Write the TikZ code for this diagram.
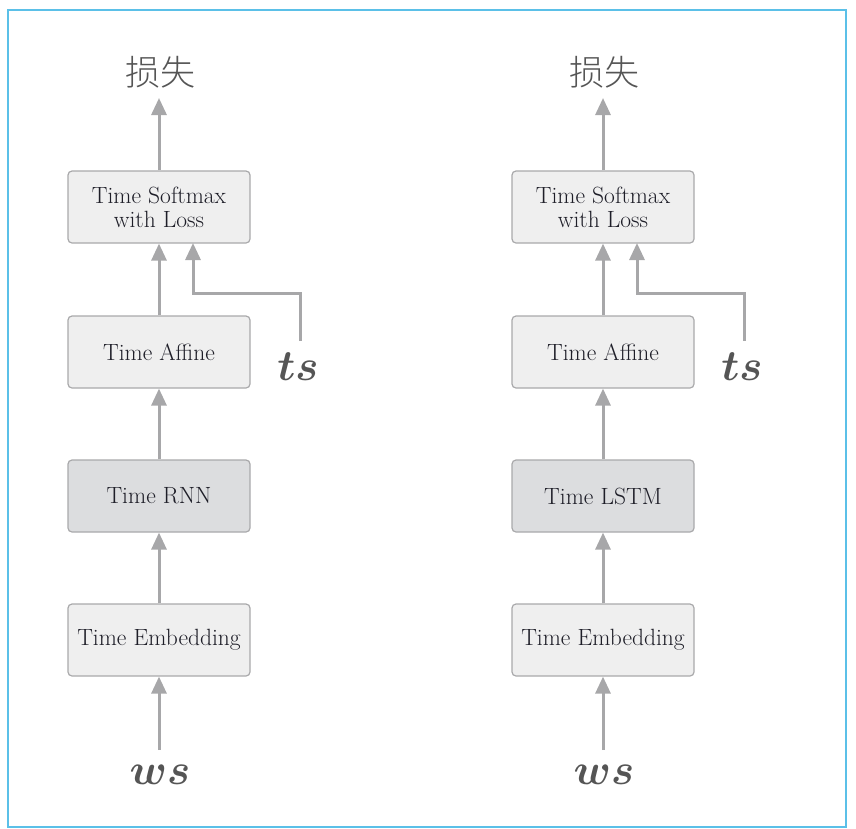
\documentclass[tikz,border=0pt]{standalone}
\usepackage{fontspec}
\usepackage{amsmath,bm}
\newfontfamily\cjk{Noto Sans CJK SC Light}
\usetikzlibrary{arrows.meta}
\definecolor{arrowgray}{HTML}{A7A7A9}
\definecolor{boxfill}{HTML}{EFEFEF}
\definecolor{darkfill}{HTML}{DCDDDF}
\definecolor{boxline}{HTML}{A9A9AB}
\definecolor{frameblue}{HTML}{5BC0E8}
\definecolor{labelgray}{HTML}{555555}
\definecolor{boxtext}{HTML}{1E1E28}
\begin{document}
\begin{tikzpicture}[x=1pt,y=-1pt,
  layerbox/.style={draw=boxline,line width=1.2pt,fill=boxfill,rounded corners=4pt,
    minimum width=182pt,minimum height=72pt,inner sep=0pt,align=center,
    font=\fontsize{23.5}{25}\selectfont,text=boxtext},
  darkbox/.style={layerbox,fill=darkfill},
  flow/.style={draw=arrowgray,line width=3pt,-{Triangle[length=17pt,width=15pt]}},
  mathlabel/.style={text=labelgray,font=\fontsize{24.88}{28}\selectfont,inner sep=0pt,scale=1.75},
  losslabel/.style={text=labelgray,font=\cjk\fontsize{35}{38}\selectfont,inner sep=0pt}]
\useasboundingbox (0,0) rectangle (856,828);
\draw[frameblue,line width=1.5pt] (8,10) rectangle (846,827);
% left column
\node[layerbox] (ls) at (159,207) {Time Softmax\\[-1pt]with Loss};
\node[layerbox] (la) at (159,352) {Time Affine};
\node[darkbox] (lr) at (159,496) {Time RNN};
\node[layerbox] (le) at (159,640) {Time Embedding};
\node[losslabel] (lloss) at (160,72) {损失};
\node[mathlabel] (lts) at (298,367) {$\bm{ts}$};
\node[mathlabel] (lws) at (160,775) {$\bm{ws}$};
\coordinate (ltop) at (159,98);
\coordinate (lbot) at (159,750);
\coordinate (ltsin) at (193,243);
\draw[flow] (ls.north) -- (ltop);
\draw[flow] (la.north) -- (ls.south);
\draw[flow] (lr.north) -- (la.south);
\draw[flow] (le.north) -- (lr.south);
\draw[flow] (lbot) -- (le.south);
\draw[flow] (300,341) -- (300,293) -- (193,293) -- (ltsin);
% right column
\node[layerbox] (rs) at (603,207) {Time Softmax\\[-1pt]with Loss};
\node[layerbox] (ra) at (603,352) {Time Affine};
\node[darkbox] (rr) at (603,496) {Time LSTM};
\node[layerbox] (re) at (603,640) {Time Embedding};
\node[losslabel] (rloss) at (604,72) {损失};
\node[mathlabel] (rts) at (742,367) {$\bm{ts}$};
\node[mathlabel] (rws) at (604,775) {$\bm{ws}$};
\coordinate (rtop) at (603,98);
\coordinate (rbot) at (603,750);
\coordinate (rtsin) at (637,243);
\draw[flow] (rs.north) -- (rtop);
\draw[flow] (ra.north) -- (rs.south);
\draw[flow] (rr.north) -- (ra.south);
\draw[flow] (re.north) -- (rr.south);
\draw[flow] (rbot) -- (re.south);
\draw[flow] (744,341) -- (744,293) -- (637,293) -- (rtsin);
\end{tikzpicture}
\end{document}
